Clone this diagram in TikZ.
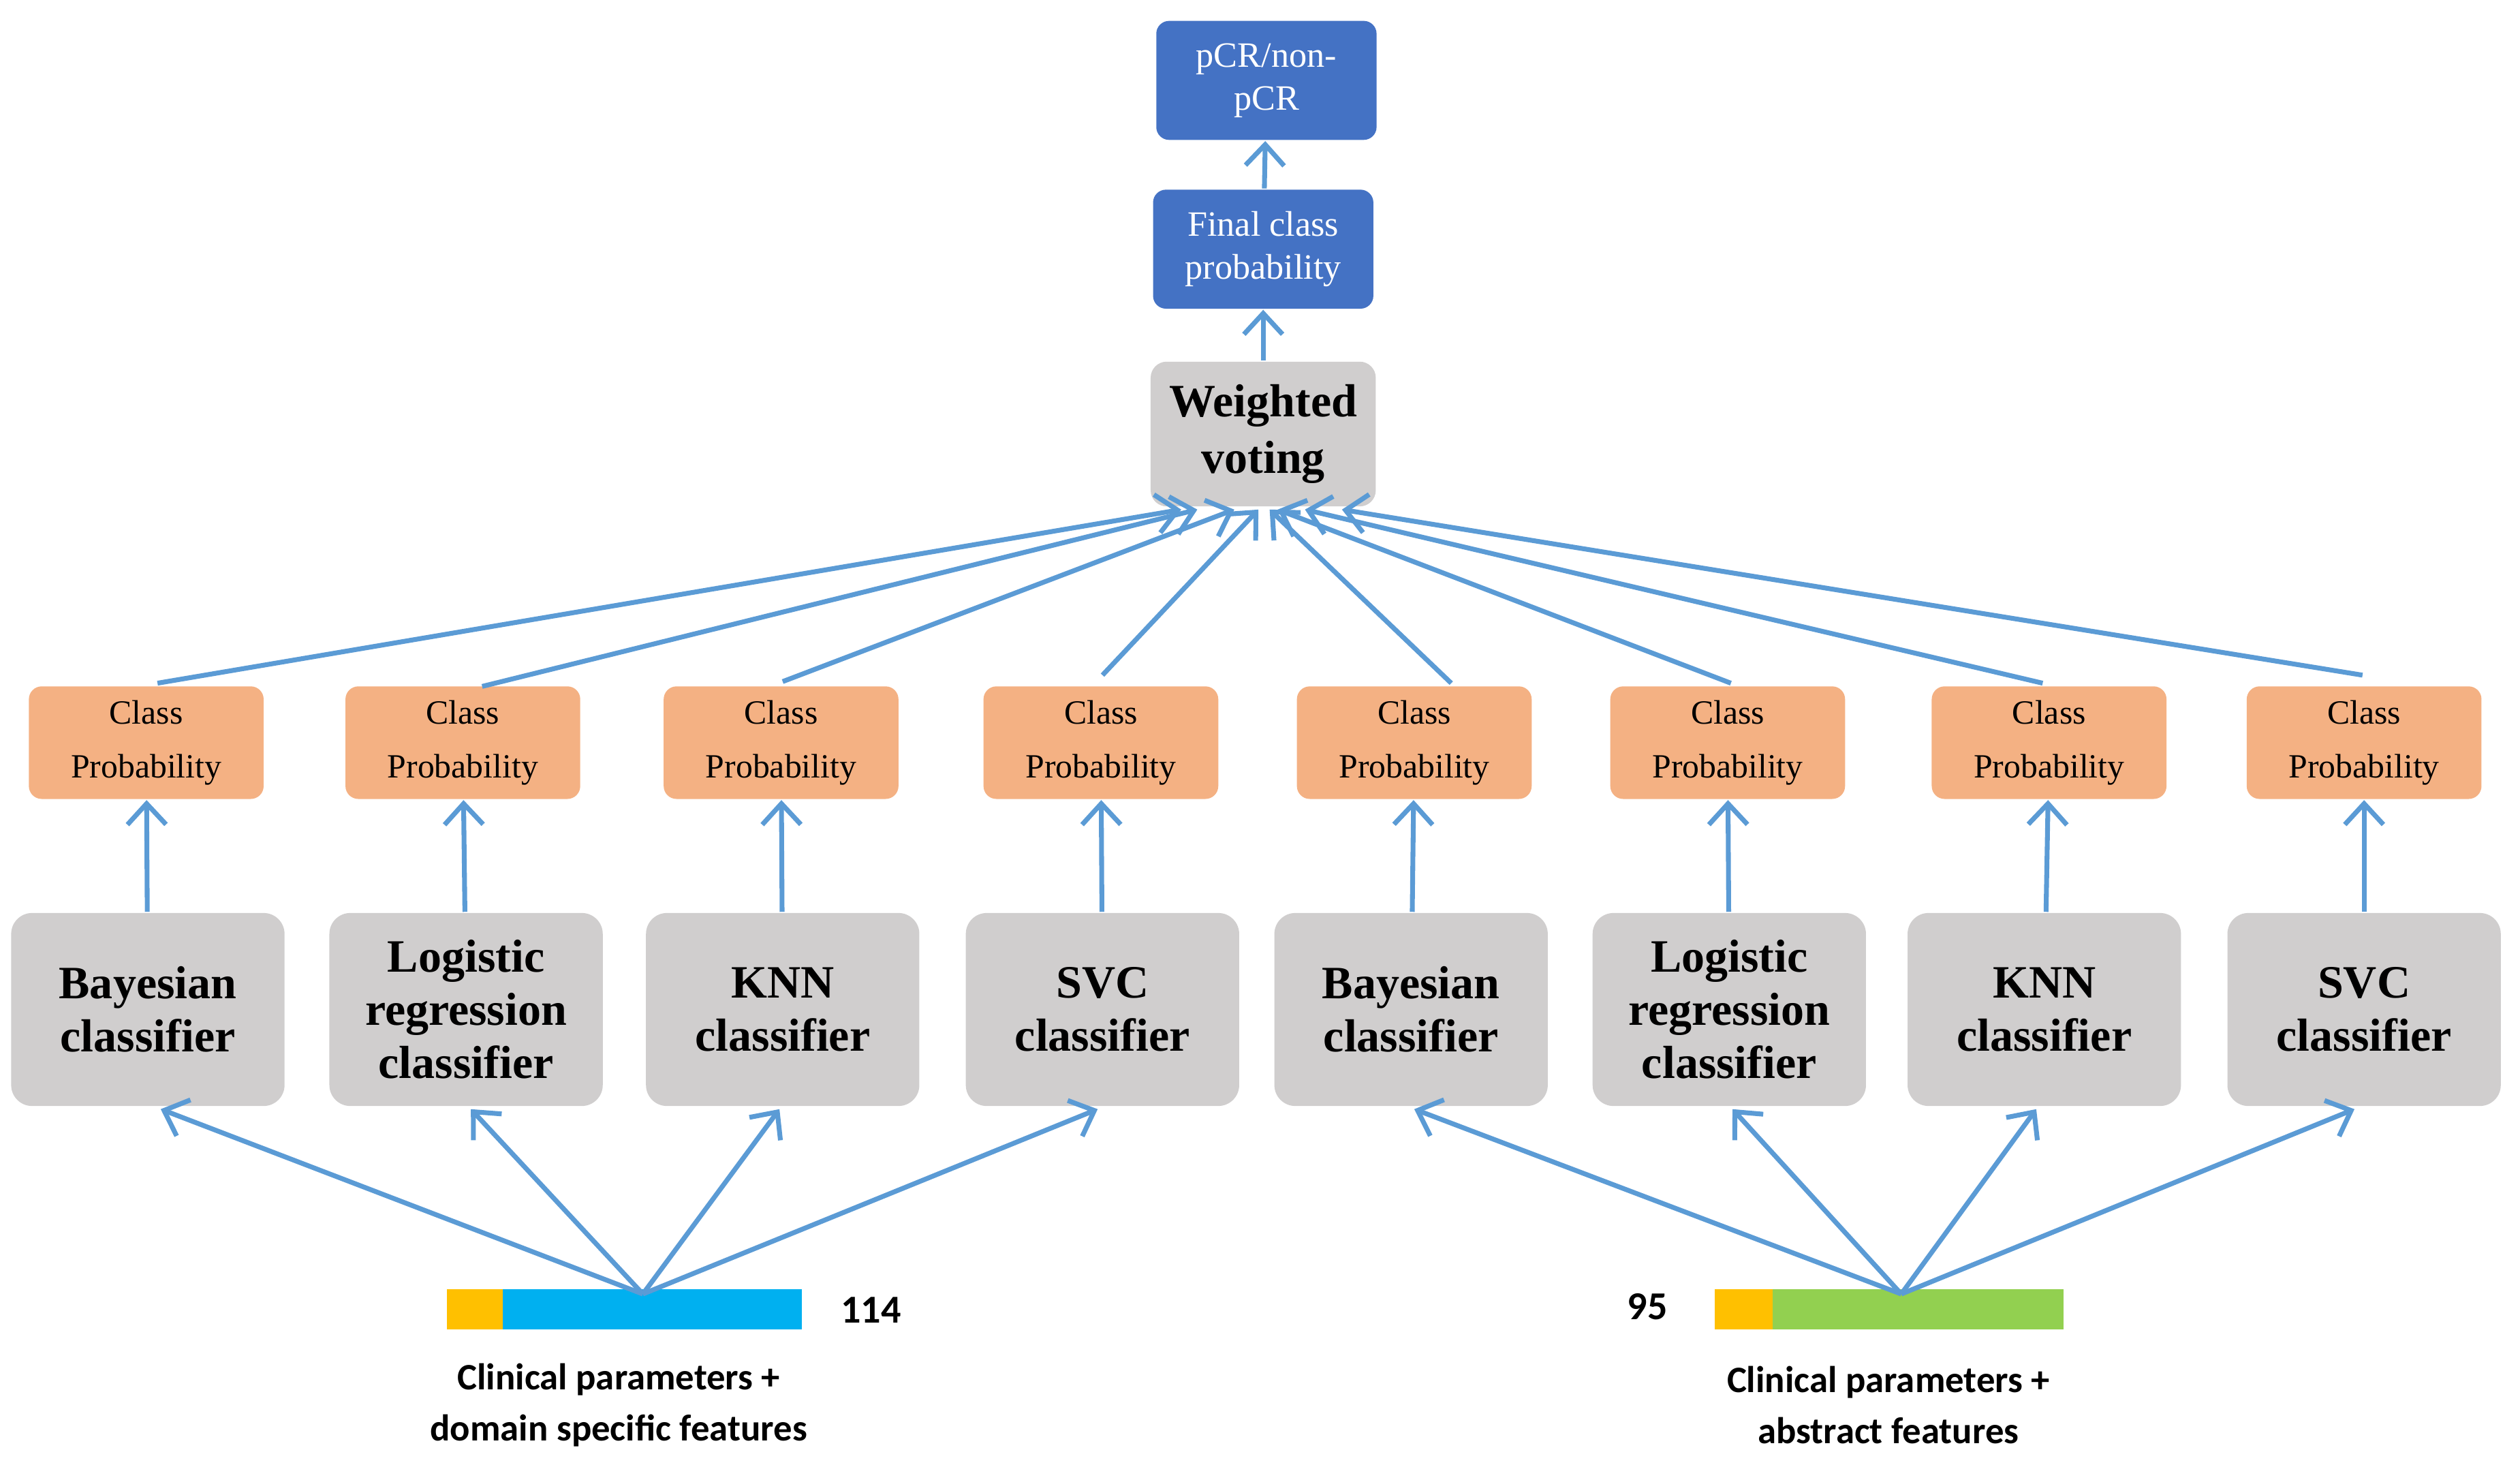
\documentclass[tikz,border=0pt]{standalone}
\usepackage{fontspec}
\setmainfont{Liberation Serif}
\newfontfamily\lblfont{Carlito}
\usetikzlibrary{arrows.meta}
\definecolor{bl}{HTML}{4472C4}
\definecolor{ar}{HTML}{5B9BD5}
\definecolor{gr}{HTML}{D0CECE}
\definecolor{og}{HTML}{F4B183}
\definecolor{yl}{HTML}{FFC000}
\definecolor{cy}{HTML}{00B0F0}
\definecolor{gn}{HTML}{92D050}
\begin{document}
\begin{tikzpicture}[x=0.01cm,y=-0.01cm,
 blue/.style={fill=bl,rounded corners=0.8mm,minimum width=1.37cm,minimum height=0.74cm,text=white,font=\fontsize{6.3}{7.6}\selectfont,align=center,inner sep=1pt},
 vote/.style={fill=gr,rounded corners=1mm,minimum width=1.4cm,minimum height=0.9cm,font=\fontsize{8.2}{10}\selectfont\bfseries,align=center,inner sep=1pt},
 cp/.style={fill=og,rounded corners=0.8mm,minimum width=1.46cm,minimum height=0.7cm,font=\fontsize{6}{9.5}\selectfont,align=center,inner sep=1pt},
 cl/.style={fill=gr,rounded corners=1.3mm,minimum width=1.7cm,minimum height=1.2cm,font=\fontsize{8.2}{9.4}\selectfont\bfseries,align=center,inner sep=1pt},
 arr/.style={draw=ar,line width=0.3mm,-{Straight Barb[length=1.3mm,width=2.4mm]}},
 lbl/.style={font=\lblfont\fontsize{6.6}{9}\selectfont\bfseries,align=center}]
\useasboundingbox (0,0) rectangle (1568,911);
\node[blue] (p) at (788,50) {pCR/non-\\pCR};
\node[blue] (f) at (786,155) {Final class\\probability};
\node[vote] (w) at (786,270) {Weighted\\voting};
\draw[arr] (f) -- (p);
\draw[arr] (w) -- (f);
\foreach \i/\cx/\px/\txt/\tx in {1/92/91/Bayesian\\classifier/735,2/290/288/Logistic\\regression\\classifier/745,3/487/486/KNN\\classifier/768,4/686/685/SVC\\classifier/783,5/878/880/Bayesian\\classifier/790,6/1076/1075/Logistic\\regression\\classifier/795,7/1272/1275/KNN\\classifier/812,8/1471/1471/SVC\\classifier/835}{
 \node[cl] (c\i) at (\cx,628) {\txt};
 \node[cp] (q\i) at (\px,462) {Class\\Probability};
 \coordinate (t\i) at (\tx,317);
 \draw[arr] (c\i) -- (q\i);
}
\draw[arr] (98,425) -- (t1);
\draw[arr] (300,427) -- (t2);
\draw[arr] (487,424) -- (t3);
\draw[arr] (686,420) -- (t4);
\draw[arr] (903,425) -- (t5);
\draw[arr] (1077,425) -- (t6);
\draw[arr] (1271,425) -- (t7);
\draw[arr] (1470,420) -- (t8);
% bars
\fill[yl] (278,802) rectangle (313,827);
\fill[cy] (313,802) rectangle (499,827);
\fill[yl] (1067,802) rectangle (1103,827);
\fill[gn] (1103,802) rectangle (1284,827);
\coordinate (bl) at (400,805);
\coordinate (br) at (1183,805);
\node[lbl,font=\lblfont\fontsize{7}{9}\selectfont\bfseries] (n1) at (542,815) {114};
\node[lbl,font=\lblfont\fontsize{7}{9}\selectfont\bfseries] (n2) at (1025,813) {95};
\node[lbl] (l1) at (385,874) {Clinical parameters +\\domain specific features};
\node[lbl] (l2) at (1175,874) {Clinical parameters +\\abstract features};
\foreach \i/\x in {1/100,2/293,3/485,4/683}{\draw[arr] (bl) -- (\x,690);}
\foreach \i/\x in {5/880,6/1078,7/1267,8/1465}{\draw[arr] (br) -- (\x,690);}
\end{tikzpicture}
\end{document}
